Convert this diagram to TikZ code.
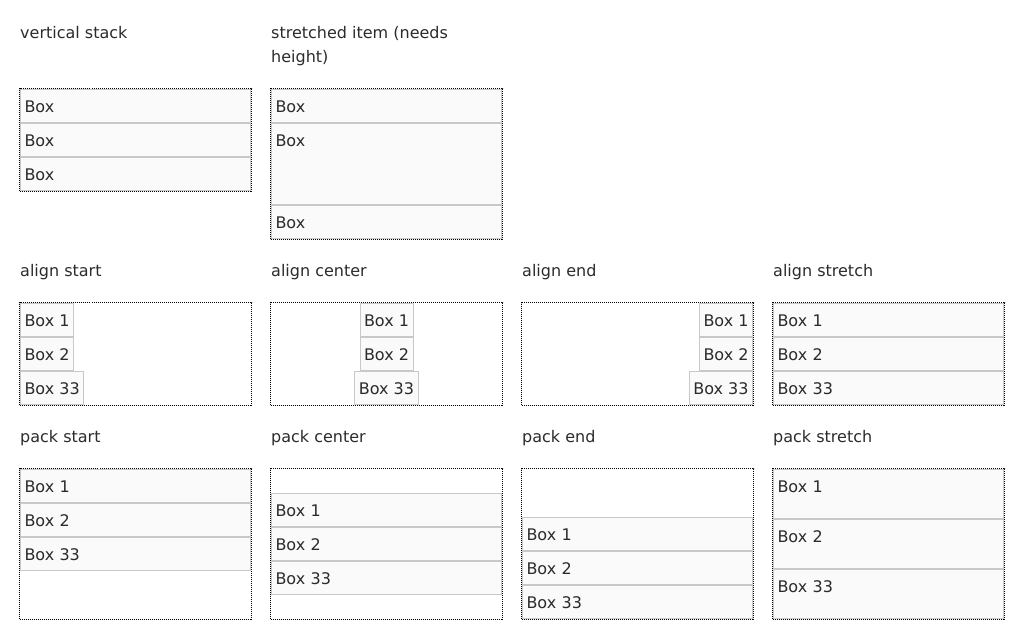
\documentclass[tikz,border=0pt]{standalone}
\usepackage{fontspec}
\setmainfont{DejaVu Sans}
\usepackage{tikz}
\usetikzlibrary{positioning}
\definecolor{cellfill}{HTML}{FAFAFA}
\definecolor{cellline}{HTML}{C8C8C8}
\definecolor{ink}{HTML}{2B2B2B}
\tikzset{
  tag/.style={anchor=base west, inner sep=0pt, text=ink, font=\fontsize{16}{24}\selectfont, align=left},
  holder/.style={draw=black, line width=1pt, dash pattern=on 1pt off 1pt, anchor=north west, inner sep=0pt, outer sep=0pt, minimum width=232pt},
  cell/.style={draw=cellline, fill=cellfill, line width=1pt, text=ink, font=\fontsize{16}{24}\selectfont, inner xsep=4pt, inner ysep=8.5pt, text height=14pt, text depth=2pt, outer sep=0pt, anchor=north west},
  wide/.style={cell, text width=222pt, align=left},
}

\begin{document}
\begin{tikzpicture}[x=1pt,y=-1pt]
\useasboundingbox (0,0) rectangle (1024,638);

\node[tag] (tvs) at (20,38) {vertical stack};
\node[tag] (tsi) at (271,62) {stretched item (needs\\height)};
\node[tag] (tas) at (20,276) {align start};
\node[tag] (tac) at (271,276) {align center};
\node[tag] (tae) at (522,276) {align end};
\node[tag] (tat) at (773,276) {align stretch};
\node[tag] (tps) at (20,442) {pack start};
\node[tag] (tpc) at (271,442) {pack center};
\node[tag] (tpe) at (522,442) {pack end};
\node[tag] (tpt) at (773,442) {pack stretch};

\node[wide] (vs1) at (20.5,89.5) {Box};
\node[wide] (vs2) at (20.5,123.5) {Box};
\node[wide] (vs3) at (20.5,157.5) {Box};
\node[holder, minimum height=103pt] (vs) at (19.5,88.5) {};

\node[wide] (si1) at (271.5,89.5) {Box};
\node[wide, text depth=50pt] (si2) at (271.5,123.5) {Box};
\node[wide] (si3) at (271.5,205.5) {Box};
\node[holder, minimum height=151pt] (si) at (270.5,88.5) {};

\node[cell] (as1) at (20.5,303.5) {Box 1};
\node[cell] (as2) at (20.5,337.5) {Box 2};
\node[cell] (as3) at (20.5,371.5) {Box 33};
\node[holder, minimum height=103pt] (as) at (19.5,302.5) {};

\node[cell, anchor=north] (ac1) at (386.5,303.5) {Box 1};
\node[cell, anchor=north] (ac2) at (386.5,337.5) {Box 2};
\node[cell, anchor=north] (ac3) at (386.5,371.5) {Box 33};
\node[holder, minimum height=103pt] (ac) at (270.5,302.5) {};

\node[cell, anchor=north east] (ae1) at (752.5,303.5) {Box 1};
\node[cell, anchor=north east] (ae2) at (752.5,337.5) {Box 2};
\node[cell, anchor=north east] (ae3) at (752.5,371.5) {Box 33};
\node[holder, minimum height=103pt] (ae) at (521.5,302.5) {};

\node[wide] (at1) at (773.5,303.5) {Box 1};
\node[wide] (at2) at (773.5,337.5) {Box 2};
\node[wide] (at3) at (773.5,371.5) {Box 33};
\node[holder, minimum height=103pt] (at) at (772.5,302.5) {};

\node[wide] (ps1) at (20.5,469.5) {Box 1};
\node[wide] (ps2) at (20.5,503.5) {Box 2};
\node[wide] (ps3) at (20.5,537.5) {Box 33};
\node[holder, minimum height=151pt] (ps) at (19.5,468.5) {};

\node[wide] (pc1) at (271.5,493.5) {Box 1};
\node[wide] (pc2) at (271.5,527.5) {Box 2};
\node[wide] (pc3) at (271.5,561.5) {Box 33};
\node[holder, minimum height=151pt] (pc) at (270.5,468.5) {};

\node[wide] (pe1) at (522.5,517.5) {Box 1};
\node[wide] (pe2) at (522.5,551.5) {Box 2};
\node[wide] (pe3) at (522.5,585.5) {Box 33};
\node[holder, minimum height=151pt] (pe) at (521.5,468.5) {};

\node[wide, text depth=18pt] (pt1) at (773.5,469.5) {Box 1};
\node[wide, text depth=18pt] (pt2) at (773.5,519.5) {Box 2};
\node[wide, text depth=18pt] (pt3) at (773.5,569.5) {Box 33};
\node[holder, minimum height=151pt] (pt) at (772.5,468.5) {};
\end{tikzpicture}
\end{document}
